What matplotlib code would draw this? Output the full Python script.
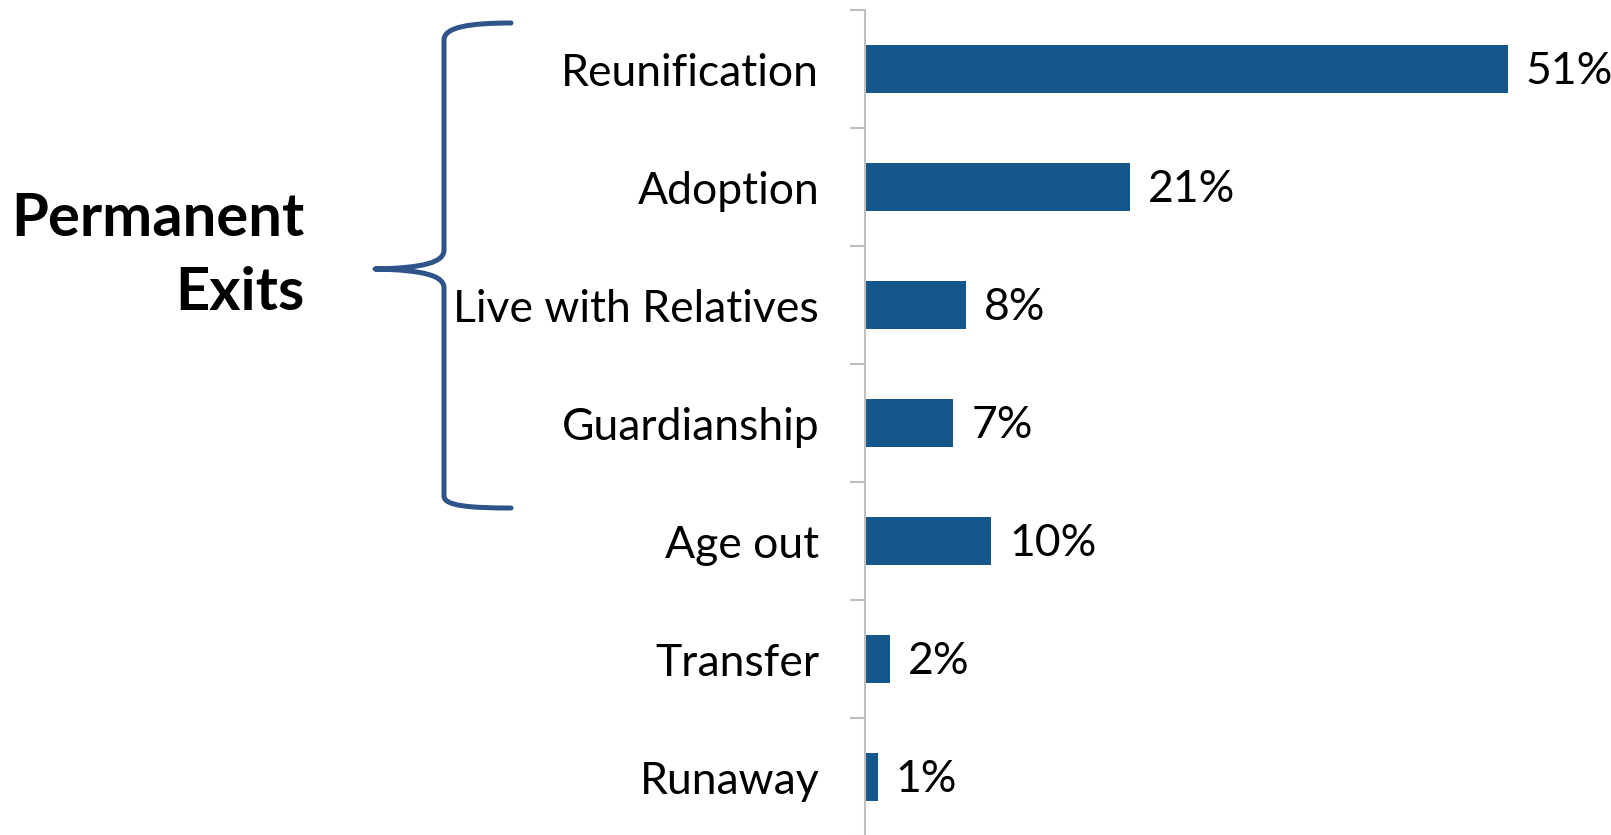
import matplotlib
matplotlib.use('Agg')
import matplotlib.pyplot as plt
from matplotlib.path import Path
from matplotlib.patches import PathPatch
from matplotlib.transforms import Affine2D
from matplotlib.ticker import FixedLocator
import numpy as np

categories = ["Reunification", "Adoption", "Live with Relatives", "Guardianship",
              "Age out", "Transfer", "Runaway"]
values = [51, 21, 8, 7, 10, 2, 1]
value_labels = ["51%", "21%", "8%", "7%", "10%", "2%", "1%"]
group_lines = ["Permanent", "Exits"]

BAR = '#15578A'
BRACE = '#2E5489'
GRID = '#BFBFBF'
FONT = 'Lato'

W, H = 1611, 835
fig = plt.figure(figsize=(W / 100, H / 100), dpi=100)
ax = fig.add_axes([865 / W, -1 / H, 731 / W, 826 / H])

y = np.arange(len(categories))
ax.barh(y, values, height=0.4, color=BAR)
ax.set_xlim(0, 58)
ax.set_ylim(len(categories) - 0.5, -0.5)

for sp in ['top', 'right', 'bottom']:
    ax.spines[sp].set_visible(False)
ax.spines['left'].set_color(GRID)
ax.spines['left'].set_linewidth(1.5)
ax.set_xticks([])

ax.set_yticks(y)
ax.set_yticklabels(categories, fontsize=32, family=FONT)
ax.tick_params(axis='y', which='major', length=0, pad=33)
ax.yaxis.set_minor_locator(FixedLocator(np.arange(-0.5, len(categories), 1.0)))
ax.tick_params(axis='y', which='minor', length=10.8, width=1.5, color=GRID, direction='out')

for i, (v, lab) in enumerate(zip(values, value_labels)):
    ax.annotate(lab, (v, i), xytext=(13, -2), textcoords='offset points',
                ha='left', va='center', fontsize=32, family=FONT)

# brace in figure pixel coordinates (y downward)
px = Affine2D().scale(1 / W, -1 / H).translate(0, 1) + fig.transFigure
verts = [(511, 23), (470, 23), (444, 27), (444, 40),
         (444, 250),
         (444, 262), (425, 268), (375, 269),
         (425, 270), (444, 276), (444, 288),
         (444, 496),
         (444, 506), (470, 508), (511, 508)]
codes = [Path.MOVETO, Path.CURVE4, Path.CURVE4, Path.CURVE4,
         Path.LINETO,
         Path.CURVE4, Path.CURVE4, Path.CURVE4,
         Path.CURVE4, Path.CURVE4, Path.CURVE4,
         Path.LINETO,
         Path.CURVE4, Path.CURVE4, Path.CURVE4]
fig.patches.append(PathPatch(Path(verts, codes), transform=px, facecolor='none',
                             edgecolor=BRACE, linewidth=3.6, capstyle='round',
                             joinstyle='round'))

fig.text(304 / W, 1 - 236 / H, group_lines[0], ha='right', va='baseline',
         fontsize=43, fontweight='bold', family=FONT)
fig.text(304 / W, 1 - 310 / H, group_lines[1], ha='right', va='baseline',
         fontsize=43, fontweight='bold', family=FONT)

fig.savefig('out.png', dpi=100, facecolor='white')
